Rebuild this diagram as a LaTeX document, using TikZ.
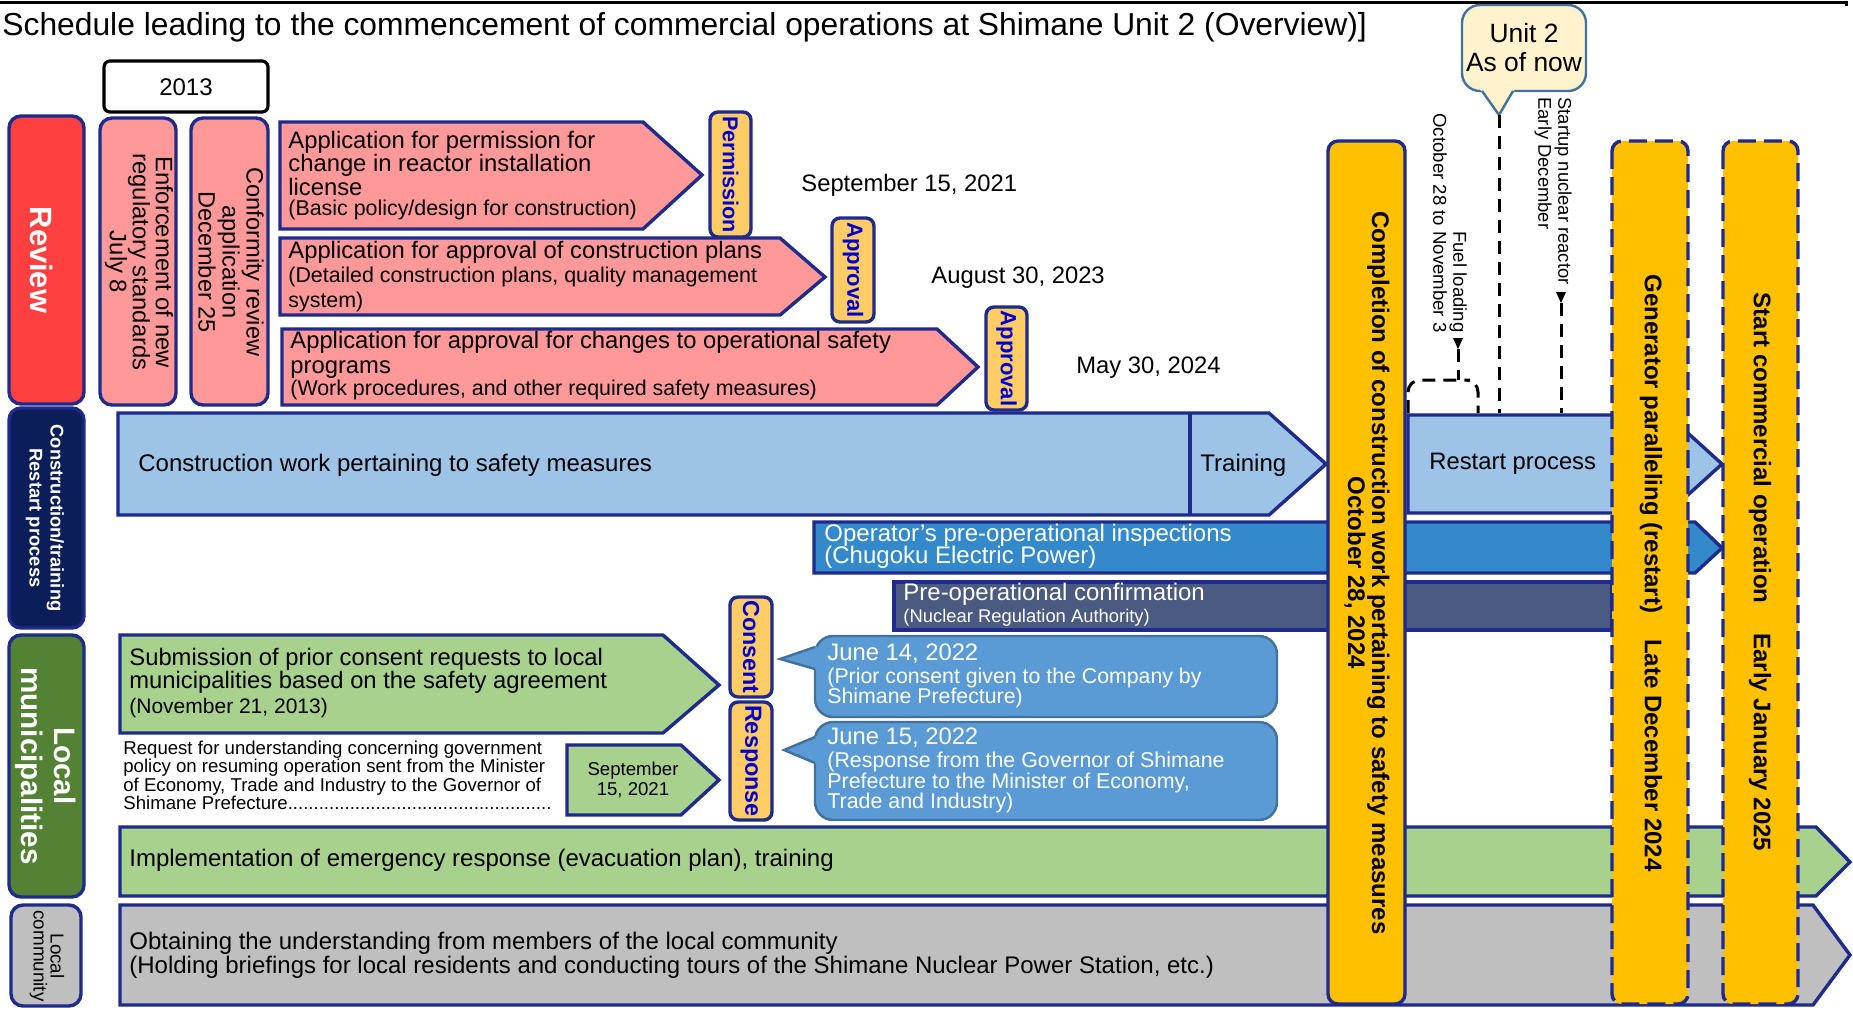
\documentclass[tikz,border=0pt]{standalone}
\usepackage{fontspec}
\setmainfont{Liberation Sans}
\newcommand\myfs[2]{\fontsize{#1}{#2}\selectfont\lineskiplimit=-100pt\relax}
\definecolor{navyB}{HTML}{1E2A8C}
\definecolor{navyF}{HTML}{0C1E5A}
\definecolor{revred}{HTML}{FF4040}
\definecolor{munigreen}{HTML}{548235}
\definecolor{pinkF}{HTML}{FF9999}
\definecolor{tagF}{HTML}{FFCC66}
\definecolor{tagT}{HTML}{0000CC}
\definecolor{ltblue}{HTML}{9DC3E6}
\definecolor{opblue}{HTML}{3389CA}
\definecolor{slate}{HTML}{4A5A80}
\definecolor{callB}{HTML}{5B9BD5}
\definecolor{callL}{HTML}{41719C}
\definecolor{ltgreen}{HTML}{A9D18E}
\definecolor{grayF}{HTML}{BFBFBF}
\definecolor{orangeF}{HTML}{FFC000}
\definecolor{unitF}{HTML}{FFF2CC}
\tikzset{
 bord/.style={draw=navyB, line width=1.7pt, line join=miter},
 dashbord/.style={draw=navyB, line width=1.7pt, dash pattern=on 9pt off 4pt},
 blackdash/.style={draw=black, line width=1.5pt, dash pattern=on 6.5pt off 4pt},
 txt/.style={inner sep=0pt, align=left, anchor=west},
 vtxt/.style={inner sep=0pt, align=center, rotate=-90},
 htxt/.style={inner sep=0pt, align=center},
 tagtxt/.style={inner sep=0pt, rotate=-90, text=tagT},
 tagbox/.style={bord, fill=tagF, rounded corners=4pt},
 callbox/.style={draw=callL, line width=1.2pt, fill=callB, rounded corners=9pt},
 colbox/.style={fill=orangeF, rounded corners=5pt},
}
\begin{document}
\begin{tikzpicture}[x=0.5pt,y=-0.5pt]
\useasboundingbox (0,0) rectangle (1853,1009);
% title and frame
\draw[line width=1.5pt] (0,2) -- (1846,2) -- (1846,6);
\node[inner sep=0pt, anchor=base west] (title) at (2,35) {\myfs{15.9}{18}Schedule leading to the commencement of commercial operations at Shimane Unit 2 (Overview)]};
\draw[line width=1.6pt, rounded corners=3pt] (104,61) rectangle (268,112);
\node[inner sep=0pt] (y2013) at (186,87) {\myfs{12}{14}2013};
% category boxes
\draw[bord, fill=revred, rounded corners=6pt] (9,116) rectangle (84,404);
\node[vtxt, text=white, font=\bfseries\myfs{15.4}{17}] (review) at (42,260) {Review};
\draw[bord, fill=navyF, rounded corners=6pt] (9,408) rectangle (84,628);
\node[vtxt, text=white, font=\bfseries\myfs{9.2}{10.5}] (constr) at (45,518) {Construction/training\\Restart process};
\draw[bord, fill=munigreen, rounded corners=6pt] (9,635) rectangle (84,897);
\node[vtxt, text=white, font=\bfseries\myfs{14.8}{16.5}] (muni) at (46,766) {Local\\municipalities};
\draw[bord, fill=grayF, rounded corners=6pt] (11,905) rectangle (81,1006);
\node[vtxt, font=\myfs{9.4}{8.5}] (comm) at (47,956) {Local\\community};
% pink boxes
\draw[bord, fill=pinkF, rounded corners=6pt] (100,118) rectangle (176,405);
\node[vtxt, font=\myfs{11.9}{11.5}] (enf) at (139,262) {Enforcement of new\\regulatory standards\\July 8};
\draw[bord, fill=pinkF, rounded corners=6pt] (191,118) rectangle (268,405);
\node[vtxt, font=\myfs{11.8}{12}] (conf) at (231,262) {Conformity review\\application\\December 25};
% pink arrows
\draw[bord, fill=pinkF] (280,122) -- (643,122) -- (702,175) -- (643,229) -- (280,229) -- cycle;
\node[txt, font=\myfs{11.9}{11.75}] (pa1) at (288,163) {Application for permission for\\change in reactor installation\\license};
\node[txt, font=\myfs{10.7}{12}] (pa1b) at (288,210) {(Basic policy/design for construction)};
\draw[bord, fill=pinkF] (280,238) -- (780,238) -- (825,277) -- (780,315) -- (280,315) -- cycle;
\node[txt, font=\myfs{11.9}{12.5}] (pa2) at (288,252) {Application for approval of construction plans};
\node[txt, font=\myfs{10.7}{12.5}] (pa2b) at (288,289) {(Detailed construction plans, quality management\\system)};
\draw[bord, fill=pinkF] (282,329) -- (937,329) -- (978,367) -- (937,405) -- (282,405) -- cycle;
\node[txt, font=\myfs{11.9}{12.5}] (pa3) at (290,355) {Application for approval for changes to operational safety\\programs};
\node[txt, font=\myfs{10.7}{12}] (pa3b) at (290,390) {(Work procedures, and other required safety measures)};
% tags
\draw[tagbox] (710,112) rectangle (751,237);
\node[tagtxt, font=\bfseries\myfs{10.8}{12}] (perm) at (730.5,174.5) {Permission};
\draw[tagbox] (832,218) rectangle (874,322);
\node[tagtxt, font=\bfseries\myfs{11}{12}] (appr1) at (853,270) {Approval};
\draw[tagbox] (986,307) rectangle (1027,410);
\node[tagtxt, font=\bfseries\myfs{11}{12}] (appr2) at (1006.5,358.5) {Approval};
% dates
\node[txt, font=\myfs{11.9}{14}] (d1) at (801,185) {September 15, 2021};
\node[txt, font=\myfs{11.9}{14}] (d2) at (931,278) {August 30, 2023};
\node[txt, font=\myfs{11.9}{14}] (d3) at (1076,368) {May 30, 2024};
% construction bars
\draw[bord, fill=ltblue] (118,413) -- (1269,413) -- (1326,464) -- (1269,515) -- (118,515) -- cycle;
\draw[bord] (1190,413) -- (1190,515);
\node[txt, font=\myfs{12}{14}] (cw) at (138,465) {Construction work pertaining to safety measures};
\node[txt, font=\myfs{12}{14}] (train) at (1200,465) {Training};
\draw[bord, fill=ltblue] (1408,415) -- (1668,415) -- (1722,464) -- (1668,513) -- (1408,513) -- cycle;
\node[txt, font=\myfs{11.9}{14}] (restart) at (1429,464) {Restart process};
\draw[bord, fill=opblue] (814,522) -- (1695,522) -- (1722,548) -- (1695,573) -- (814,573) -- cycle;
\node[txt, text=white, font=\myfs{12}{11}] (oper) at (824,546) {Operator’s pre-operational inspections\\(Chugoku Electric Power)};
\draw[bord, fill=slate] (894,582) rectangle (1612,630);
\node[txt, text=white, font=\myfs{12}{14}] (preop) at (903,594) {Pre-operational confirmation};
\node[txt, text=white, font=\myfs{9.2}{11}] (nra) at (903,618) {(Nuclear Regulation Authority)};
% local municipalities
\draw[bord, fill=ltgreen] (120,635) -- (663,635) -- (719,685) -- (663,733) -- (120,733) -- cycle;
\node[txt, font=\myfs{11.9}{11.5}] (subm) at (129,671) {Submission of prior consent requests to local\\municipalities based on the safety agreement};
\node[txt, font=\myfs{10.5}{12}] (subm2) at (129,708) {(November 21, 2013)};
\node[txt, font=\myfs{9.3}{9.25}] (req) at (123,775.5) {Request for understanding concerning government\\policy on resuming operation sent from the Minister\\of Economy, Trade and Industry to the Governor of\\Shimane Prefecture...................................................};
\draw[bord, fill=ltgreen] (567,745) -- (681,745) -- (719,780) -- (681,815) -- (567,815) -- cycle;
\node[htxt, font=\myfs{9.3}{10}] (sep) at (633,780) {September\\15, 2021};
\draw[tagbox] (730,597) rectangle (772,697);
\node[tagtxt, font=\bfseries\myfs{11.6}{12}] (cons) at (751,647) {Consent};
\draw[tagbox] (730,702) rectangle (772,820);
\node[tagtxt, font=\bfseries\myfs{11.7}{12}] (resp) at (751,761) {Response};
% callouts
\draw[callbox] (815,636) rectangle (1277,717);
\fill[callB] (817,646) -- (780,659) -- (817,670) -- cycle;
\draw[callL, line width=1.2pt] (815,647) -- (780,659) -- (815,669);
\node[txt, text=white, font=\myfs{11.9}{14}] (j14) at (827,654) {June 14, 2022};
\node[txt, text=white, font=\myfs{10.65}{10}] (j14b) at (827,688) {(Prior consent given to the Company by\\Shimane Prefecture)};
\draw[callbox] (815,722) rectangle (1277,820);
\fill[callB] (817,736) -- (784,750) -- (817,764) -- cycle;
\draw[callL, line width=1.2pt] (815,737) -- (784,750) -- (815,763);
\node[txt, text=white, font=\myfs{11.9}{14}] (j15) at (827,738) {June 15, 2022};
\node[txt, text=white, font=\myfs{10.7}{10.25}] (j15b) at (827,782.5) {(Response from the Governor of Shimane\\Prefecture to the Minister of Economy,\\Trade and Industry)};
% emergency and community bars
\draw[bord, fill=ltgreen] (120,827) -- (1816,827) -- (1850,862) -- (1816,896) -- (120,896) -- cycle;
\node[txt, font=\myfs{12}{14}] (emerg) at (129,860) {Implementation of emergency response (evacuation plan), training};
\draw[bord, fill=grayF] (120,905) -- (1813,905) -- (1850,955) -- (1813,1005) -- (120,1005) -- cycle;
\node[txt, font=\myfs{12}{12}] (obt) at (129,955) {Obtaining the understanding from members of the local community\\(Holding briefings for local residents and conducting tours of the Shimane Nuclear Power Station, etc.)};
% milestone columns
\draw[bord, colbox] (1328,141) rectangle (1405,1004);
\node[vtxt, font=\bfseries\myfs{12}{12}] (compl) at (1367,573) {Completion of construction work pertaining to safety measures\\October 28, 2024};
\draw[dashbord, colbox] (1612,141) rectangle (1688,1004);
\node[vtxt, font=\bfseries\myfs{12}{12}] (gen) at (1651,573) {Generator paralleling (restart)\hspace{13pt}Late December 2024};
\draw[dashbord, colbox] (1723,141) rectangle (1798,1004);
\node[vtxt, font=\bfseries\myfs{12}{12}] (startc) at (1760,572) {Start commercial operation\hspace{15pt}Early January 2025};
% Unit 2 callout
\draw[draw=callL, line width=1.2pt, fill=unitF, rounded corners=9pt] (1462,5) rectangle (1586,91);
\fill[unitF] (1480,89) -- (1499,115) -- (1515,89) -- cycle;
\draw[callL, line width=1.2pt] (1482,91) -- (1499,115) -- (1513,91);
\node[inner sep=0pt, align=center, font=\myfs{13.2}{14.5}] (unit2) at (1524,48) {Unit 2\\As of now};
\coordinate (u2tip) at (1499,115);
\coordinate (u2end) at (1499,413);
\draw[blackdash] (u2tip) -- (u2end);
% fuel loading
\node[vtxt, anchor=east, align=right, font=\myfs{9.3}{10}] (fuel) at (1450,333) {Fuel loading\\October 28 to November 3};
\fill (1453,338) -- (1463,338) -- (1458,349) -- cycle;
\coordinate (fuelA) at (1458,349);
\coordinate (fuelB) at (1458,380);
\draw[blackdash] (fuelA) -- (fuelB);
\draw[blackdash, rounded corners=6pt] (1408,413) |- (fuelB) -| (1478,413);
% startup
\node[vtxt, anchor=west, align=left, font=\myfs{9.2}{10}] (startup) at (1553,97) {Startup nuclear reactor\\Early December};
\fill (1556,292) -- (1566,292) -- (1561,303) -- cycle;
\coordinate (stA) at (1561,303);
\coordinate (stB) at (1561,413);
\draw[blackdash] (stA) -- (stB);
\end{tikzpicture}
\end{document}
